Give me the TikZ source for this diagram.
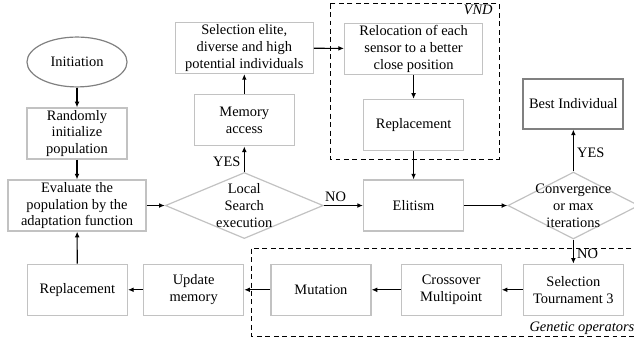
\documentclass[tikz,border=0pt]{standalone}
\usepackage{fontspec}
\setmainfont{Liberation Serif}
\usetikzlibrary{arrows.meta, positioning, shapes.geometric, calc}
\definecolor{framegray}{gray}{0.76}
\definecolor{darkframe}{gray}{0.5}
\tikzset{
    flowbox/.style={
        rectangle,
        draw=framegray,
        line width=1.2pt,
        align=center,
        minimum width=3.53cm,
        minimum height=1.8cm,
        inner sep=1.5pt,
        fill=white
    },
    widebox/.style={
        flowbox,
        minimum width=4.87cm
    },
    flowdecision/.style={
        diamond,
        draw=framegray,
        line width=1.2pt,
        align=center,
        inner sep=-1cm,
        fill=white
    },
    flowline/.style={
        -{Latex[length=2mm, width=1.7mm]},
        line width=1.1pt
    },
    groupframe/.style={
        line width=0.9pt,
        dash pattern=on 5pt off 3.5pt
    },
    grouplabel/.style={
        font=\fontsize{14.5}{17}\selectfont\itshape,
        inner sep=2pt
    }
}

\begin{document}
\begin{tikzpicture}[font=\fontsize{14.5}{17}\selectfont]
    \useasboundingbox (-2.717,2.187) rectangle (19.651,-9.843);

    \node[ellipse, draw=darkframe, line width=1.2pt, minimum width=3.53cm, minimum height=1.76cm] (init) {Initiation};
    \node[flowbox, below=0.70cm of init] (randinit) {Randomly\\initialize\\population};
    \node[widebox, below=0.70cm of randinit] (evaluate) {Evaluate the\\population by the\\adaptation function};
    \node[flowdecision, minimum width=5.57cm, minimum height=2.33cm, right=0.64cm of evaluate] (local) {Local\\Search\\execution};
    \node[flowbox, above=0.90cm of local] (memacc) {Memory\\access};
    \node[widebox, above=0.71cm of memacc] (selelite) {Selection elite,\\diverse and high\\potential individuals};

    \node[flowbox, right=1.38cm of local] (elitism) {Elitism};
    \node[flowbox, above=1.0cm of elitism] (replvnd) {Replacement};
    \node[widebox, above=0.85cm of replvnd] (reloc) {Relocation of each\\sensor to a better\\close position};

    \node[flowdecision, minimum width=4.62cm, minimum height=2.36cm, right=1.52cm of elitism] (converge) {Convergence\\or max\\iterations};
    \node[flowbox, draw=darkframe, line width=1.8pt, minimum height=1.76cm, above=1.48cm of converge] (best) {Best Individual};

    \node[flowbox, below=0.85cm of converge] (seltour) {Selection\\Tournament 3};
    \node[flowbox, left=0.74cm of seltour] (crossover) {Crossover\\Multipoint};
    \node[flowbox, left=1.02cm of crossover] (mutation) {Mutation};
    \node[flowbox, left=0.92cm of mutation] (updmem) {Update\\memory};
    \node[flowbox, left=0.53cm of updmem] (replace) {Replacement};

    % dashed groups
    \draw[groupframe] ($(reloc.north west)+(-0.49,0.67)$) coordinate (vndnw)
        rectangle ($(replvnd.south east)+(1.23,-0.28)$) coordinate (vndse);
    \node[grouplabel, anchor=north east] (vndlabel) at ($(vndnw -| vndse)+(-0.15,0.02)$) {VND};
    \draw[groupframe] ($(mutation.north west)+(-0.65,0.53)$) coordinate (gennw)
        rectangle ($(seltour.south east)+(0.76,-0.74)$) coordinate (gense);
    \node[grouplabel, anchor=south east] (genlabel) at ($(gense)+(-0.32,0.02)$) {Genetic operators};

    \draw[flowline] (init) -- (randinit);
    \draw[flowline] (randinit) -- (evaluate);
    \draw[flowline] (evaluate) -- (local);
    \draw[flowline] (local) -- node[left, pos=0.4] {YES} (memacc);
    \draw[flowline] (memacc) -- (selelite);
    \draw[flowline] (selelite) -- (reloc);
    \draw[flowline] (reloc) -- (replvnd);
    \draw[flowline] (replvnd) -- (elitism);
    \draw[flowline] (local) -- node[above, pos=0.3] {NO} (elitism);
    \draw[flowline] (elitism) -- (converge);
    \draw[flowline] (converge) -- node[right, pos=0.45] {YES} (best);
    \draw[flowline] (converge) -- node[right, pos=0.6] {NO} (seltour);
    \draw[flowline] (seltour) -- (crossover);
    \draw[flowline] (crossover) -- (mutation);
    \draw[flowline] (mutation) -- (updmem);
    \draw[flowline] (updmem) -- (replace);
    \draw[flowline] (replace) -- (evaluate);
\end{tikzpicture}
\end{document}
